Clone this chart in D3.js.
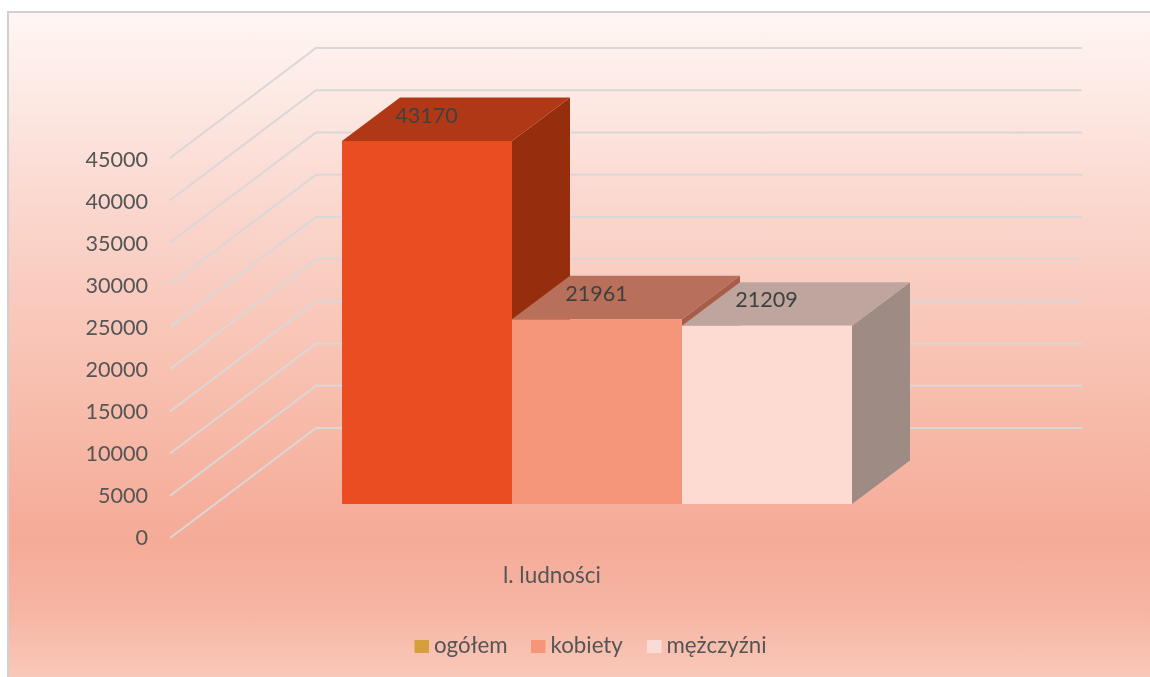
<!DOCTYPE html>
<html lang="pl">
<head>
<meta charset="utf-8">
<script src="https://cdn.jsdelivr.net/npm/d3@7"></script>
<style>
html,body{margin:0;padding:0;background:#fff;overflow:hidden}
text{font-family:Lato,"Open Sans",sans-serif}
</style>
</head>
<body>
<div id="chart"></div>
<script>
const categories = ["l. ludności"];
const seriesNames = ["ogółem", "kobiety", "mężczyźni"];
const seriesValues = [43170, 21961, 21209];
const tickValues = [0, 5000, 10000, 15000, 20000, 25000, 30000, 35000, 40000, 45000];
const frontColors = ["#ea4d20", "#f5957a", "#fddbd2"];
const topColors = ["#b13916", "#b86f5a", "#bea69e"];
const sideColors = ["#962d0f", "#a75d49", "#9e8b84"];
const legendColors = ["#d5a03b", "#f5957a", "#fbdcd4"];

const W = 1150, H = 677;
const svg = d3.select("#chart").append("svg").attr("width", W).attr("height", H).style("display", "block");
const defs = svg.append("defs");
const grad = defs.append("linearGradient").attr("id", "bg").attr("gradientUnits", "userSpaceOnUse")
  .attr("x1", 0).attr("y1", 12).attr("x2", 0).attr("y2", 677);
[[0, "#fff6f3"], [0.12, "#fdeae5"], [0.3, "#fad6cd"], [0.55, "#f8c0b0"], [0.79, "#f5ab97"], [0.9, "#f6b5a3"], [1, "#f9c8b9"]]
  .forEach(([o, c]) => grad.append("stop").attr("offset", o).attr("stop-color", c));
const soft = defs.append("filter").attr("id", "soft").attr("filterUnits", "userSpaceOnUse")
  .attr("x", 0).attr("y", 0).attr("width", W).attr("height", H);
soft.append("feGaussianBlur").attr("stdDeviation", 0.5);

const root = svg.append("g").attr("filter", "url(#soft)");

// frame: open at the right and bottom picture edges
root.append("rect").attr("x", 8).attr("y", 12).attr("width", 1160).attr("height", 690)
  .attr("fill", "url(#bg)").attr("stroke", "#d0d0d0").attr("stroke-width", 2);

// 3-D projection: a depth step is a fixed screen offset
const gridY = d3.scaleLinear().domain([0, 45000]).range([538, 158]);
const gridFrontX = 170, wallDX = 146, wallDY = -110, wallRight = 1082;

const gridG = root.append("g").attr("fill", "none").attr("stroke", "#dad7d6").attr("stroke-width", 2);
gridG.selectAll("path").data(tickValues).join("path")
  .attr("d", v => d3.line()([
    [gridFrontX, gridY(v)],
    [gridFrontX + wallDX, gridY(v) + wallDY],
    [wallRight, gridY(v) + wallDY]
  ]));

// y-axis labels
const labelY = d3.scaleLinear().domain([0, 45000]).range([538, 159.5]);
const axisG = root.append("g");
const yAxis = d3.axisLeft(labelY).tickValues(tickValues).tickFormat(d3.format("d")).tickSize(0).tickPadding(0);
axisG.attr("transform", "translate(148,0)").call(yAxis);
axisG.select(".domain").remove();
axisG.selectAll("text").attr("font-size", 21.6).attr("fill", "#555555").attr("font-family", "Lato");

// bars
const x0 = d3.scaleBand().domain(categories).range([342, 852]);
const x1 = d3.scaleBand().domain(seriesNames).range([x0(categories[0]), x0(categories[0]) + x0.bandwidth()]);
const barY = d3.scaleLinear().domain([0, 43170]).range([504, 141]);
const barDX = 58, barDY = -43.5;
const bars = seriesNames.map((name, i) => ({name, value: seriesValues[i], i}));

const pts = a => a.map(p => p.join(",")).join(" ");
// painted left to right, with each bar's side hidden by the next bar's front and top
const barG = root.selectAll("g.bar").data(bars).join("g").attr("class", "bar");
barG.append("polygon").attr("fill", d => sideColors[d.i]).attr("points", d => {
  const r = x1(d.name) + x1.bandwidth(), t = barY(d.value), b = barY(0);
  return pts([[r, t], [r + barDX, t + barDY], [r + barDX, b + barDY], [r, b]]);
});
barG.append("polygon").attr("fill", d => topColors[d.i]).attr("points", d => {
  const l = x1(d.name), r = l + x1.bandwidth(), t = barY(d.value);
  return pts([[l, t], [l + barDX, t + barDY], [r + barDX, t + barDY], [r, t]]);
});
barG.append("rect").attr("fill", d => frontColors[d.i])
  .attr("x", d => x1(d.name)).attr("width", x1.bandwidth())
  .attr("y", d => barY(d.value)).attr("height", d => barY(0) - barY(d.value));

// data labels
root.append("g").selectAll("text").data(bars).join("text")
  .attr("x", d => x1(d.name) + x1.bandwidth() / 2 - 0.5)
  .attr("y", d => barY(d.value) - 18.5)
  .attr("text-anchor", "middle").attr("font-size", 21.6).attr("fill", "#404040")
  .text(d => d.value);

// category label
root.append("text").attr("x", 552).attr("y", 583)
  .attr("text-anchor", "middle").attr("font-size", 22.5).attr("fill", "#555555")
  .text(categories[0]);

// legend
const legendX = [414.5, 531, 647];
const legend = root.append("g").selectAll("g").data(seriesNames).join("g")
  .attr("transform", (d, i) => `translate(${legendX[i]},640)`);
legend.append("rect").attr("width", 14.5).attr("height", 13).attr("fill", (d, i) => legendColors[i]);
legend.append("text").attr("x", 19.5).attr("y", 13).attr("font-size", 22.3).attr("fill", "#555555").text(d => d);
</script>
</body>
</html>
